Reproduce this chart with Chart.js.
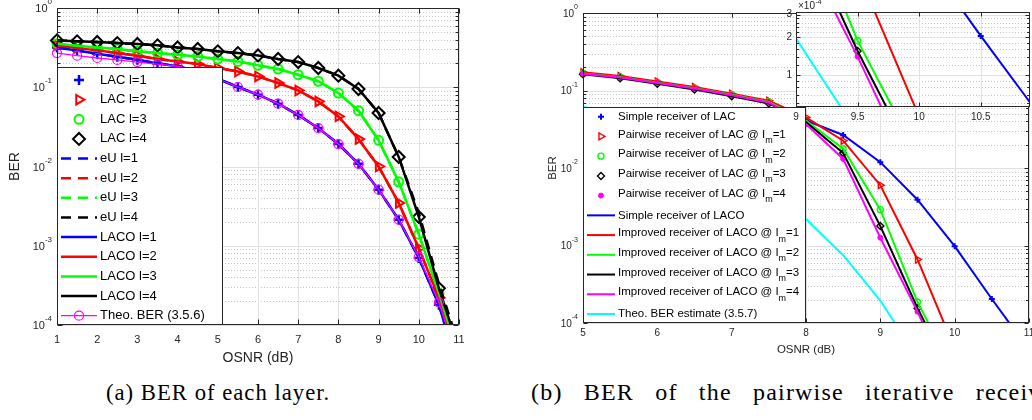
<!DOCTYPE html>
<html>
<head>
<meta charset="utf-8">
<title>BER vs OSNR</title>
<script src="https://cdn.jsdelivr.net/npm/chart.js@4.4.1/dist/chart.umd.min.js"></script>
<style>
    html, body { margin: 0; padding: 0; background: #fff; }
    body { width: 1032px; height: 420px; position: relative; overflow: hidden; }
    canvas { position: absolute; top: 0; }
    #layers { left: 0; }
    #receivers { left: 540px; }
    #zoomed { left: 760px; }
    .caption {
        position: absolute; top: 380px; white-space: nowrap; color: #000;
        font-family: "Liberation Serif", "DejaVu Serif", serif;
        font-size: 22.7px; line-height: 26px; letter-spacing: 1px;
    }
    .caption.wide { font-size: 24px; letter-spacing: 1.2px; word-spacing: 14px; top: 379px; }
</style>
</head>
<body>
<canvas id="layers" width="470" height="370"></canvas>
<canvas id="receivers" width="492" height="370"></canvas>
<canvas id="zoomed" width="272" height="125"></canvas>
<div class="caption" style="left:106px">(a) BER of each layer.</div>
<div class="caption wide" style="left:531px">(b) BER of the pairwise iterative receiver.</div>
<script>
// ---- panel (a): BER of each layer ----
const osnrA = [1, 1.5, 2, 2.5, 3, 3.5, 4, 4.5, 5, 5.5, 6, 6.5, 7, 7.5, 8, 8.5, 9, 9.5, 10, 10.5, 11];

// LACO curves per layer (the LAC markers sit on the same points)
const lacoL1 = [0.318, 0.29, 0.265, 0.243, 0.222, 0.2, 0.184, 0.158, 0.128, 0.1007, 0.0805, 0.062, 0.0447, 0.0305, 0.0192, 0.0108, 0.0051, 0.00213, 0.0007, 0.00018, 0.000025];
const lacoL2 = [0.338, 0.313, 0.292, 0.27, 0.25, 0.227, 0.212, 0.196, 0.175, 0.158, 0.137, 0.113, 0.0912, 0.0663, 0.0429, 0.0222, 0.01, 0.00347, 0.00093, 0.00022, 0.000034];
const lacoL3 = [0.355, 0.334, 0.318, 0.303, 0.284, 0.27, 0.257, 0.245, 0.227, 0.212, 0.189, 0.17, 0.144, 0.119, 0.0845, 0.0506, 0.0214, 0.0064, 0.0014, 0.00025, 0.00004];
const lacoL4 = [0.39, 0.38, 0.372, 0.361, 0.351, 0.338, 0.318, 0.304, 0.284, 0.27, 0.252, 0.227, 0.208, 0.175, 0.14, 0.095, 0.0473, 0.0132, 0.00231, 0.00029, 0.000049];

// eU curves
const eUL1 = [0.318, 0.29, 0.265, 0.243, 0.222, 0.2, 0.184, 0.158, 0.128, 0.1007, 0.0805, 0.062, 0.0447, 0.0305, 0.0192, 0.0108, 0.0051, 0.00213, 0.0007, 0.00018, 0.000025];
const eUL2 = [0.338, 0.313, 0.292, 0.27, 0.25, 0.227, 0.212, 0.196, 0.175, 0.158, 0.137, 0.113, 0.0912, 0.0663, 0.0429, 0.0222, 0.01, 0.00347, 0.00093, 0.00022, 0.000034];
const eUL3 = [0.355, 0.334, 0.318, 0.303, 0.284, 0.27, 0.257, 0.245, 0.227, 0.212, 0.189, 0.17, 0.144, 0.119, 0.0845, 0.0506, 0.0214, 0.0064, 0.0014, 0.00025, 0.00004];
const eUL4 = [0.39, 0.38, 0.372, 0.361, 0.351, 0.338, 0.318, 0.304, 0.284, 0.27, 0.252, 0.227, 0.208, 0.175, 0.14, 0.095, 0.0473, 0.0132, 0.0026, 0.00033, 0.000055];

// theoretical BER (3.5.6)
const theoA = [0.27, 0.25, 0.234, 0.221, 0.208, 0.196, 0.184, 0.158, 0.128, 0.1007, 0.0805, 0.062, 0.0447, 0.0305, 0.0192, 0.0108, 0.0051, 0.00213, 0.00072, 0.000193, 0.000031];

const osnrTicksA = [1, 2, 3, 4, 5, 6, 7, 8, 9, 10, 11];

// ---- panel (b): pairwise iterative receiver ----
const osnrB = [5, 5.5, 6, 6.5, 7, 7.5, 8, 8.5, 9, 9.5, 10, 10.5, 11];
const simpleRx = [0.166, 0.148, 0.126, 0.107, 0.088, 0.071, 0.041, 0.0267, 0.0119, 0.0039, 0.00098, 0.000204, 0.000045];
const improvedIm1 = [0.172, 0.154, 0.131, 0.111, 0.091, 0.074, 0.045, 0.0225, 0.006, 0.00066, 0.000047];
const improvedIm2 = [0.166, 0.148, 0.126, 0.107, 0.088, 0.071, 0.041, 0.0177, 0.0029, 0.000187, 0.000022];
const improvedIm3 = [0.162, 0.144, 0.122, 0.103, 0.084, 0.068, 0.039, 0.0156, 0.00178, 0.000155, 0.0000176];
const improvedIm4 = [0.165, 0.147, 0.125, 0.106, 0.087, 0.07, 0.037, 0.0131, 0.00126, 0.00014, 0.000013];
const theoB = [0.062, 0.045, 0.031, 0.02, 0.012, 0.0062, 0.0022, 0.00075, 0.000195, 0.000035];

const osnrTicksB = [5, 6, 7, 8, 9, 10, 11];
const berTicks = [1e-4, 1e-3, 1e-2, 1e-1, 1];

// zoomed window around 1e-4
const insetOsnrTicks = [9, 9.5, 10, 10.5];
const insetBerTicks = [1e-4, 2e-4, 3e-4];
const insetBerLabels = ['1', '2', '3'];
const insetMinor = [0.6e-4, 0.7e-4, 0.8e-4, 0.9e-4, 1.2e-4, 1.4e-4, 1.6e-4, 1.8e-4, 2.2e-4, 2.4e-4, 2.6e-4, 2.8e-4];

const ink = '#262626';
const sans = '"Liberation Sans", Arial, Helvetica, sans-serif';
const blue = '#0000ff', red = '#ff0000', green = '#00ff00', black = '#000000', magenta = '#ff00ff', cyan = '#00ffff';
const none = 'rgba(0,0,0,0)';

const pts = (xs, ys) => ys.map((v, i) => ({ x: xs[i], y: v }));

function markers(label, xs, ys, color, style, radius, extra) {
    return Object.assign({
        label: label,
        data: pts(xs, ys),
        showLine: false,
        borderColor: color,
        backgroundColor: none,
        pointStyle: style,
        pointRadius: radius,
        pointBorderWidth: 2,
        pointBorderColor: color,
        pointBackgroundColor: none,
    }, extra);
}

function curve(label, xs, ys, color, width, extra) {
    return Object.assign({
        label: label,
        data: pts(xs, ys),
        borderColor: color,
        backgroundColor: none,
        borderWidth: width,
        pointRadius: 0,
        tension: 0,
        fill: false,
    }, extra);
}

// grid, box, inward ticks and axis text in the MATLAB look
const axesFrame = {
    id: "axesFrame",
    beforeDatasetsDraw(chart, args, o) {
        const { ctx, chartArea: a, scales: { x, y } } = chart;
        ctx.save();
        ctx.fillStyle = "#fff";
        ctx.fillRect(a.left, a.top, a.right - a.left, a.bottom - a.top);
        ctx.lineWidth = 1;

        // dotted minor grid
        ctx.strokeStyle = "#c4c4c4";
        ctx.setLineDash([1, 2]);
        ctx.beginPath();
        minorValues(y, o).forEach((v) => {
            const py = Math.round(y.getPixelForValue(v)) + 0.5;
            ctx.moveTo(a.left, py);
            ctx.lineTo(a.right, py);
        });
        ctx.stroke();

        // major grid
        ctx.setLineDash([]);
        ctx.strokeStyle = "#e1e1e1";
        ctx.beginPath();
        x.ticks.forEach((t) => {
            const px = Math.round(x.getPixelForValue(t.value)) + 0.5;
            ctx.moveTo(px, a.top);
            ctx.lineTo(px, a.bottom);
        });
        y.ticks.forEach((t) => {
            const py = Math.round(y.getPixelForValue(t.value)) + 0.5;
            ctx.moveTo(a.left, py);
            ctx.lineTo(a.right, py);
        });
        ctx.stroke();
        ctx.restore();
    },
    afterDatasetsDraw(chart, args, o) {
        const { ctx, chartArea: a, scales: { x, y } } = chart;
        ctx.save();
        ctx.strokeStyle = ink;
        ctx.lineWidth = 1;
        const l = Math.round(a.left) + 0.5, r = Math.round(a.right) - 0.5;
        const t = Math.round(a.top) + 0.5, b = Math.round(a.bottom) - 0.5;
        ctx.strokeRect(l, t, r - l, b - t);

        // ticks pointing into the plot
        ctx.beginPath();
        x.ticks.forEach((tk) => {
            const px = Math.round(x.getPixelForValue(tk.value)) + 0.5;
            ctx.moveTo(px, b); ctx.lineTo(px, b - o.tickLen);
            ctx.moveTo(px, t); ctx.lineTo(px, t + o.tickLen);
        });
        y.ticks.forEach((tk) => {
            const py = Math.round(y.getPixelForValue(tk.value)) + 0.5;
            ctx.moveTo(l, py); ctx.lineTo(l + o.tickLen, py);
            ctx.moveTo(r, py); ctx.lineTo(r - o.tickLen, py);
        });
        minorValues(y, o).forEach((v) => {
            const py = Math.round(y.getPixelForValue(v)) + 0.5;
            ctx.moveTo(l, py); ctx.lineTo(l + o.minorLen, py);
            ctx.moveTo(r, py); ctx.lineTo(r - o.minorLen, py);
        });
        ctx.stroke();

        // tick labels
        ctx.fillStyle = ink;
        ctx.textBaseline = "middle";
        ctx.textAlign = "center";
        ctx.font = `${o.tickSize}px ${sans}`;
        x.ticks.forEach((tk) => {
            ctx.fillText(String(tk.value), x.getPixelForValue(tk.value), o.xLabelY);
        });
        y.ticks.forEach((tk, i) => {
            const py = y.getPixelForValue(tk.value);
            if (o.yLabels) {
                ctx.textAlign = "right";
                ctx.font = `${o.tickSize}px ${sans}`;
                ctx.fillText(o.yLabels[i], o.yLabelRight, py);
                return;
            }
            // 10 with a raised exponent
            const e = String(Math.round(Math.log10(tk.value)));
            ctx.font = `${o.expSize}px ${sans}`;
            const ew = ctx.measureText(e).width;
            ctx.textAlign = "left";
            ctx.fillText(e, o.yLabelRight - ew, py - o.tickSize * 0.55);
            ctx.font = `${o.tickSize}px ${sans}`;
            ctx.textAlign = "right";
            ctx.fillText("10", o.yLabelRight - ew, py + 1);
        });

        // multiplier note above the axis
        if (o.note) {
            ctx.textAlign = "left";
            ctx.font = `${o.tickSize}px ${sans}`;
            ctx.fillText("\u00d710", o.note.x, o.note.y);
            const w = ctx.measureText("\u00d710").width;
            ctx.font = `${o.expSize}px ${sans}`;
            ctx.fillText(o.note.exp, o.note.x + w + 0.5, o.note.y - 4);
        }

        // axis titles
        if (o.xTitle) {
            ctx.textAlign = "center";
            ctx.font = `${o.titleSize}px ${sans}`;
            ctx.fillText(o.xTitle, (a.left + a.right) / 2, o.xTitleY);
            ctx.translate(o.yTitleX, (a.top + a.bottom) / 2);
            ctx.rotate(-Math.PI / 2);
            ctx.fillText(o.yTitle, 0, 0);
        }
        ctx.restore();
    },
};

// log minor positions, or an explicit list
function minorValues(scale, o) {
    if (o.minor) return o.minor;
    const out = [];
    for (let k = Math.floor(Math.log10(scale.min)); k < Math.ceil(Math.log10(scale.max)); k++) {
        for (let m = 2; m <= 9; m++) {
            const v = m * Math.pow(10, k);
            if (v > scale.min && v < scale.max) out.push(v);
        }
    }
    return out;
}

// boxed legend drawn inside the axes
const boxLegend = {
    id: "boxLegend",
    afterDraw(chart, args, o) {
        const ctx = chart.ctx;
        ctx.save();
        ctx.fillStyle = "#fff";
        ctx.fillRect(o.left, o.top, o.width, o.height);
        ctx.strokeStyle = ink;
        ctx.lineWidth = 1;
        ctx.strokeRect(o.left + 0.5, o.top + 0.5, o.width - 1, o.height - 1);

        chart.data.datasets.forEach((ds, i) => {
            const y = o.firstRow + i * o.rowGap;
            const x0 = o.left + o.lineFrom, x1 = o.left + o.lineTo;
            if (ds.showLine !== false) {
                ctx.strokeStyle = ds.borderColor;
                ctx.lineWidth = ds.borderWidth;
                ctx.setLineDash(ds.borderDash || []);
                ctx.beginPath();
                ctx.moveTo(x0, y);
                ctx.lineTo(x1, y);
                ctx.stroke();
                ctx.setLineDash([]);
            }
            if (ds.pointRadius > 0) {
                ctx.strokeStyle = ds.pointBorderColor;
                ctx.fillStyle = ds.pointBackgroundColor;
                ctx.lineWidth = ds.pointBorderWidth;
                Chart.helpers.drawPoint(ctx, {
                    pointStyle: ds.pointStyle,
                    rotation: ds.pointRotation || 0,
                    radius: ds.pointRadius,
                    borderWidth: ds.pointBorderWidth,
                }, (x0 + x1) / 2, y);
            }

            ctx.fillStyle = "#000";
            ctx.textAlign = "left";
            ctx.textBaseline = "middle";
            ctx.font = `${o.size}px ${sans}`;
            let tx = o.left + o.textAt;
            const ty = ds.labelSub ? y - 2 : y;
            ctx.fillText(ds.label, tx, ty);
            if (ds.labelSub) {
                tx += ctx.measureText(ds.label).width;
                ctx.font = `${o.size * 0.78}px ${sans}`;
                ctx.fillText(ds.labelSub, tx, ty + 6);
                tx += ctx.measureText(ds.labelSub).width;
                ctx.font = `${o.size}px ${sans}`;
                ctx.fillText(ds.labelTail, tx, ty);
            }
        });
        ctx.restore();
    },
};

function fixedTicks(list) {
    return (scale) => { scale.ticks = list.map((v) => ({ value: v })); };
}

function axis(type, min, max, tickList) {
    return {
        type: type,
        min: min,
        max: max,
        ticks: { display: false },
        grid: { display: false, drawTicks: false },
        border: { display: false },
        afterBuildTicks: fixedTicks(tickList),
    };
}

// ---- panel (a) chart ----
const edgeA = { left: 8, top: 8, right: 8, bottom: 0 };
const layerSets = [
    markers("LAC l=1", osnrA, lacoL1, blue, "cross", 5, { pointBorderWidth: 2.5, clip: edgeA }),
    markers("LAC l=2", osnrA, lacoL2, red, "triangle", 5.5, { pointRotation: 90, clip: edgeA }),
    markers("LAC l=3", osnrA, lacoL3, green, "circle", 4.5, { clip: edgeA }),
    markers("LAC l=4", osnrA, lacoL4, black, "rectRot", 6, { clip: edgeA }),
    curve("eU l=1", osnrA, eUL1, blue, 2.5, { borderDash: [10, 7], clip: edgeA }),
    curve("eU l=2", osnrA, eUL2, red, 2.5, { borderDash: [10, 7], clip: edgeA }),
    curve("eU l=3", osnrA, eUL3, green, 2.5, { borderDash: [10, 7], clip: edgeA }),
    curve("eU l=4", osnrA, eUL4, black, 2.5, { borderDash: [10, 7], clip: edgeA }),
    curve("LACO l=1", osnrA, lacoL1, blue, 2.5, { clip: edgeA }),
    curve("LACO l=2", osnrA, lacoL2, red, 2.5, { clip: edgeA }),
    curve("LACO l=3", osnrA, lacoL3, green, 2.5, { clip: edgeA }),
    curve("LACO l=4", osnrA, lacoL4, black, 2.5, { clip: edgeA }),
    curve("Theo. BER (3.5.6)", osnrA, theoA, magenta, 1.3, {
        pointRadius: 4.5, pointStyle: "circle", pointBorderWidth: 1.2,
        pointBorderColor: magenta, pointBackgroundColor: none, clip: edgeA,
    }),
];
// later series are drawn on top
layerSets.forEach((ds, i) => { ds.order = -i; });

new Chart(document.getElementById("layers"), {
    type: "line",
    data: { datasets: layerSets },
    options: {
        responsive: false,
        animation: false,
        events: [],
        layout: { autoPadding: false, padding: { left: 57, top: 8, right: 11, bottom: 45 } },
        scales: {
            x: axis("linear", 1, 11, osnrTicksA),
            y: axis("logarithmic", 1e-4, 1, berTicks),
        },
        plugins: {
            legend: { display: false },
            tooltip: { enabled: false },
            axesFrame: {
                tickSize: 11, expSize: 8, titleSize: 14, tickLen: 5, minorLen: 3,
                xLabelY: 340, yLabelRight: 52, xTitle: "OSNR (dB)", xTitleY: 358.5,
                yTitle: "BER", yTitleX: 15,
            },
            boxLegend: {
                left: 57, top: 67, width: 166, height: 258, firstRow: 80, rowGap: 19.64,
                lineFrom: 4, lineTo: 40, textAt: 43, size: 13,
            },
        },
    },
    plugins: [axesFrame, boxLegend],
});

// ---- panel (b) chart ----
function receiverSets(edge) {
    const sets = [
        markers("Simple receiver of LAC", osnrB, simpleRx, blue, "cross", 3, { pointBorderWidth: 2, clip: edge }),
        markers("Pairwise receiver of LAC @ I", osnrB, improvedIm1, red, "triangle", 4, {
            pointRotation: 90, pointBorderWidth: 1.4, labelSub: "m", labelTail: "=1", clip: edge }),
        markers("Pairwise receiver of LAC @ I", osnrB, improvedIm2, green, "circle", 3, {
            pointBorderWidth: 1.4, labelSub: "m", labelTail: "=2", clip: edge }),
        markers("Pairwise receiver of LAC @ I", osnrB, improvedIm3, black, "rectRot", 3.5, {
            pointBorderWidth: 1.4, labelSub: "m", labelTail: "=3", clip: edge }),
        markers("Pairwise receiver of LAC @ I", osnrB, improvedIm4, magenta, "circle", 2.5, {
            pointBorderWidth: 1, pointBackgroundColor: magenta, labelSub: "m", labelTail: "=4", clip: edge }),
        curve("Simple receiver of LACO", osnrB, simpleRx, blue, 2, { clip: edge }),
        curve("Improved receiver of LACO @ I", osnrB, improvedIm1, red, 2, { labelSub: "m", labelTail: "=1", clip: edge }),
        curve("Improved receiver of LACO @ I", osnrB, improvedIm2, green, 2, { labelSub: "m", labelTail: "=2", clip: edge }),
        curve("Improved receiver of LACO @ I", osnrB, improvedIm3, black, 2, { labelSub: "m", labelTail: "=3", clip: edge }),
        curve("Improved receiver of LACO @ I", osnrB, improvedIm4, magenta, 2, { labelSub: "m", labelTail: "=4", clip: edge }),
        curve("Theo. BER estimate (3.5.7)", osnrB, theoB, cyan, 2, { clip: edge }),
    ];
    sets.forEach((ds, i) => { ds.order = -i; });
    return sets;
}

new Chart(document.getElementById("receivers"), {
    type: "line",
    data: { datasets: receiverSets({ left: 6, top: 6, right: 6, bottom: 0 }) },
    options: {
        responsive: false,
        animation: false,
        events: [],
        layout: { autoPadding: false, padding: { left: 43, top: 13, right: 3, bottom: 47 } },
        scales: {
            x: axis("linear", 5, 11, osnrTicksB),
            y: axis("logarithmic", 1e-4, 1, berTicks),
        },
        plugins: {
            legend: { display: false },
            tooltip: { enabled: false },
            axesFrame: {
                tickSize: 10, expSize: 7, titleSize: 11.5, tickLen: 4, minorLen: 2.5,
                xLabelY: 333.5, yLabelRight: 38, xTitle: "OSNR (dB)", xTitleY: 350,
                yTitle: "BER", yTitleX: 13,
            },
            boxLegend: {
                left: 43, top: 107, width: 223, height: 216, firstRow: 116.7, rowGap: 19.73,
                lineFrom: 4, lineTo: 32, textAt: 35, size: 11.5,
            },
        },
    },
    plugins: [axesFrame, boxLegend],
});

// zoomed view of the 1e-4 region, laid over the top right of panel (b)
new Chart(document.getElementById("zoomed"), {
    type: "line",
    data: { datasets: receiverSets(0) },
    options: {
        responsive: false,
        animation: false,
        events: [],
        layout: { autoPadding: false, padding: { left: 36, top: 12, right: 2, bottom: 18 } },
        scales: {
            x: axis("linear", 9, 10.9, insetOsnrTicks),
            y: axis("logarithmic", 0.56e-4, 3.15e-4, insetBerTicks),
        },
        plugins: {
            legend: { display: false },
            tooltip: { enabled: false },
            axesFrame: {
                tickSize: 10, expSize: 7, tickLen: 4, minorLen: 2.5,
                xLabelY: 117, yLabelRight: 32, yLabels: insetBerLabels, minor: insetMinor,
                note: { x: 38, y: 6.5, exp: "-4" },
            },
        },
    },
    plugins: [axesFrame],
});
</script>
</body>
</html>
